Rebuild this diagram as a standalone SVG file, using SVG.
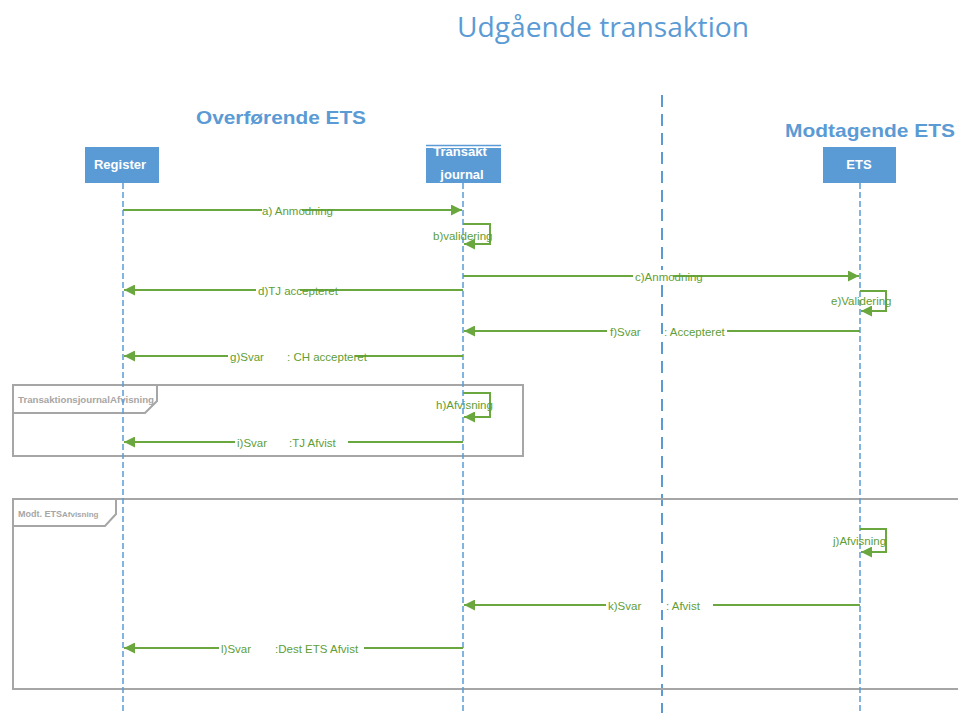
<svg xmlns="http://www.w3.org/2000/svg" width="958" height="713" viewBox="0 0 958 713">
<defs>
<marker id="ah" viewBox="0 0 10 10" refX="10" refY="5" markerWidth="11" markerHeight="11" markerUnits="userSpaceOnUse" orient="auto">
<path d="M0,0 L10,5 L0,10 z" fill="#6aa83f"/>
</marker>
<style>
.life{stroke:#5b9bd5;stroke-width:1.5;stroke-dasharray:6,3;fill:none}
.div{stroke:#5b9bd5;stroke-width:2;stroke-dasharray:12,7;fill:none}
.msg{stroke:#6aa83f;stroke-width:2;fill:none}
.lbl{font-family:"Liberation Sans",Arial,sans-serif;font-size:11.5px;fill:#5f9e35}
.box{fill:#5b9bd5}
.boxt{font-family:"Liberation Sans",Arial,sans-serif;font-size:13px;font-weight:bold;fill:#ffffff;text-anchor:middle}
.head{font-family:"Liberation Sans",Arial,sans-serif;font-size:19px;font-weight:bold;fill:#5b9bd5;text-anchor:middle}
.frame{fill:none;stroke:#a6a6a6;stroke-width:2}
.ftxt{font-family:"Liberation Sans",Arial,sans-serif;font-size:9px;font-weight:bold;fill:#a6a6a6}
.bg{fill:#ffffff}
</style>
</defs>
<rect width="958" height="713" fill="#ffffff"/>
<text x="603" y="37" font-family="'Open Sans','Liberation Sans',sans-serif" font-size="27" fill="#5b9bd5" text-anchor="middle" textLength="292" lengthAdjust="spacingAndGlyphs">Udgående transaktion</text>
<text class="head" x="281" y="124" textLength="170" lengthAdjust="spacingAndGlyphs">Overførende ETS</text>
<text class="head" x="870" y="137" textLength="170" lengthAdjust="spacingAndGlyphs">Modtagende ETS</text>
<line class="div" x1="662" y1="95" x2="662" y2="713"/>
<g id="frames">
<g id="frame-tj">
<rect class="frame" x="13" y="385" width="510" height="71"/>
<path class="frame" d="M13,413 L145,413 L157,401 L157,385"/>
<text class="ftxt" x="18" y="403" textLength="136" lengthAdjust="spacingAndGlyphs">TransaktionsjournalAfvisning</text>
</g>
<g id="frame-ets">
<path class="frame" d="M970,499 L13,499 L13,689 L970,689"/>
<path class="frame" d="M13,526 L105,526 L116,514 L116,499"/>
<text class="ftxt" x="18" y="517" font-size="10">Modt. ETS<tspan font-size="8">Afvisning</tspan></text>
</g>
</g>
<g id="register">
<line class="life" x1="123" y1="183" x2="123" y2="713"/>
<rect class="box" x="85" y="147" width="74" height="36"/>
<text class="boxt" x="120" y="169">Register</text>
</g>
<g id="transaktionsjournal">
<line class="life" x1="463" y1="183" x2="463" y2="713"/>
<rect class="box" x="426" y="148" width="75" height="35"/>
<line x1="426" y1="145.5" x2="501" y2="145.5" stroke="#5b9bd5" stroke-width="1.5"/>
<text class="boxt" x="460" y="156" font-size="14">Transakt</text>
<text class="boxt" x="462" y="179" font-size="15">journal</text>
</g>
<g id="ets">
<line class="life" x1="860" y1="183" x2="860" y2="713"/>
<rect class="box" x="823" y="147" width="73" height="36"/>
<text class="boxt" x="859" y="169">ETS</text>
</g>
<g id="connectors">
<line class="msg" x1="123" y1="210" x2="462" y2="210" marker-end="url(#ah)"/>
<rect class="bg" x="262" y="204" width="40" height="12"/>
<text class="lbl" x="262" y="215">a) Anmodning</text>
<path class="msg" d="M463,224 L490,224 L490,244 L464,244" marker-end="url(#ah)"/>
<text class="lbl" x="433" y="240">b)validering</text>
<line class="msg" x1="463" y1="276" x2="859" y2="276" marker-end="url(#ah)"/>
<rect class="bg" x="633" y="270" width="40" height="12"/>
<text class="lbl" x="635" y="281">c)Anmodning</text>
<line class="msg" x1="463" y1="290" x2="124" y2="290" marker-end="url(#ah)"/>
<rect class="bg" x="256" y="284" width="44" height="12"/>
<text class="lbl" x="258" y="295">d)TJ accepteret</text>
<path class="msg" d="M860,291 L886,291 L886,311 L861,311" marker-end="url(#ah)"/>
<text class="lbl" x="831" y="305">e)Validering</text>
<line class="msg" x1="860" y1="331" x2="464" y2="331" marker-end="url(#ah)"/>
<rect class="bg" x="607" y="325" width="120" height="12"/>
<line class="div" x1="662" y1="323" x2="662" y2="340" stroke-dashoffset="1"/>
<text class="lbl" x="610" y="336">f)Svar</text>
<text class="lbl" x="664" y="336">: Accepteret</text>
<line class="msg" x1="463" y1="356" x2="124" y2="356" marker-end="url(#ah)"/>
<rect class="bg" x="228" y="350" width="127" height="12"/>
<text class="lbl" x="230" y="361">g)Svar</text>
<text class="lbl" x="287" y="361">: CH accepteret</text>
<path class="msg" d="M463,393 L490,393 L490,417 L464,417" marker-end="url(#ah)"/>
<text class="lbl" x="436" y="409">h)Afvisning</text>
<line class="msg" x1="463" y1="442" x2="124" y2="442" marker-end="url(#ah)"/>
<rect class="bg" x="235" y="436" width="113" height="12"/>
<text class="lbl" x="237" y="447">i)Svar</text>
<text class="lbl" x="289" y="447">:TJ Afvist</text>
<path class="msg" d="M860,529 L886,529 L886,552 L861,552" marker-end="url(#ah)"/>
<text class="lbl" x="833" y="545">j)Afvisning</text>
<line class="msg" x1="860" y1="605" x2="464" y2="605" marker-end="url(#ah)"/>
<rect class="bg" x="606" y="599" width="107" height="12"/>
<line class="div" x1="662" y1="595" x2="662" y2="615" stroke-dashoffset="4"/>
<text class="lbl" x="608" y="610">k)Svar</text>
<text class="lbl" x="666" y="610">: Afvist</text>
<line class="msg" x1="463" y1="648" x2="124" y2="648" marker-end="url(#ah)"/>
<rect class="bg" x="219" y="642" width="145" height="12"/>
<text class="lbl" x="221" y="653">l)Svar</text>
<text class="lbl" x="275" y="653">:Dest ETS Afvist</text>
</g>
</svg>
